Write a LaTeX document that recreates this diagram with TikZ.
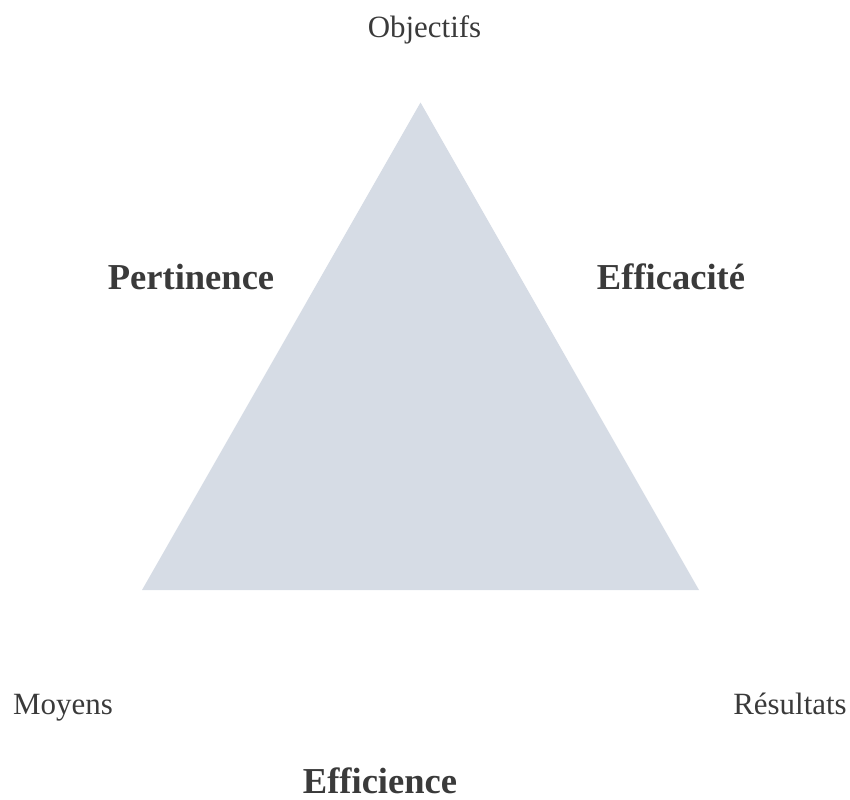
\documentclass[tikz,border=0pt]{standalone}
\usepackage{fontspec}
\setmainfont{Liberation Serif}
\definecolor{trifill}{HTML}{D6DCE5}
\definecolor{txtgray}{HTML}{3A3A3A}
\tikzset{
  corner/.style={anchor=base, inner sep=0pt, text=txtgray, font=\fontsize{23.2}{28}\selectfont},
  critere/.style={anchor=base, inner sep=0pt, text=txtgray, font=\fontsize{27.4}{32}\selectfont\bfseries}
}
\begin{document}
\begin{tikzpicture}[x=0.75pt,y=0.75pt,yscale=-1,xscale=1]
\useasboundingbox (0,0) rectangle (850,800);

%Shape: Triangle
\fill [trifill] (420.5,102.5) -- (699,590) -- (142,590) -- cycle ;

% Text Node
\node [corner] (objectifs) at (424.5,37) {Objectifs};
% Text Node
\node [corner] (moyens) at (63,714) {Moyens};
% Text Node
\node [corner] (resultats) at (790,714) {Résultats};

% Text Node
\node [critere] (pertinence) at (191,289) {Pertinence};
% Text Node
\node [critere] (efficacite) at (671,289) {Efficacité};
% Text Node
\node [critere] (efficience) at (380,793) {Efficience};

\end{tikzpicture}
\end{document}
